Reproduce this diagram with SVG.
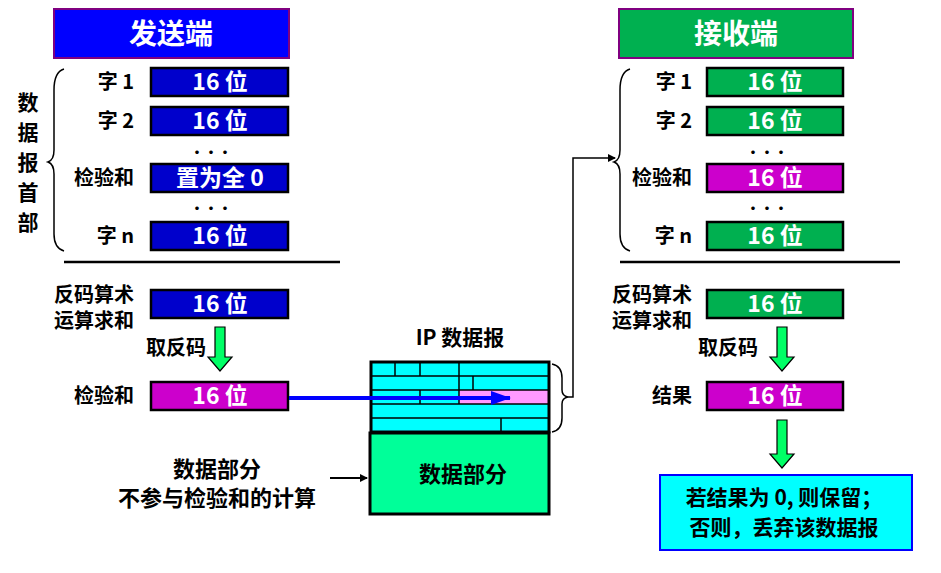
<svg xmlns="http://www.w3.org/2000/svg" width="941" height="573" viewBox="0 0 941 573">
<style>
text{font-family:"Noto Sans CJK SC","Liberation Sans",sans-serif;font-weight:bold;fill:#000}
.lbl{font-size:20px;text-anchor:end}
.w{fill:#fff;font-size:23px;text-anchor:middle}
.dots{font-size:14px;text-anchor:middle}
.fs{stroke:#000;stroke-width:2.5}
.brace{fill:none;stroke:#000;stroke-width:1.5}
.hdr{fill:#0ff;stroke:#000;stroke-width:1.5}
.ga{fill:#00ff66;stroke:#000;stroke-width:1.2}
</style>
<defs>
<marker id="ab" markerWidth="8" markerHeight="8" refX="7" refY="4" orient="auto" markerUnits="userSpaceOnUse"><path d="M0,0 L8,4 L0,8z" fill="#000"/></marker>
<marker id="abl" markerWidth="20" markerHeight="14" refX="19" refY="7" orient="auto" markerUnits="userSpaceOnUse"><path d="M0,0 L20,7 L0,14z" fill="#0000ff"/></marker>
</defs>
<g id="sender">
<rect x="54" y="9" width="235" height="49" fill="#0000ff" stroke="#800080" stroke-width="2"/>
<text class="w" x="171" y="44" style="font-size:28px">发送端</text>
<text x="28" y="110" text-anchor="middle" style="font-size:21px">数</text>
<text x="28" y="140" text-anchor="middle" style="font-size:21px">据</text>
<text x="28" y="170" text-anchor="middle" style="font-size:21px">报</text>
<text x="28" y="200" text-anchor="middle" style="font-size:21px">首</text>
<text x="28" y="230" text-anchor="middle" style="font-size:21px">部</text>
<path class="brace" d="M64,69 Q54,72 54,90 L54,150 Q54,160 48,162 Q54,164 54,174 L54,234 Q54,248 64,251"/>
<rect class="fs" x="151" y="68" width="137" height="28" fill="#0000cc"/>
<rect class="fs" x="151" y="107" width="137" height="28" fill="#0000cc"/>
<rect class="fs" x="151" y="164" width="137" height="28" fill="#0000cc"/>
<rect class="fs" x="151" y="222" width="137" height="28" fill="#0000cc"/>
<text class="w" x="220" y="90">16 位</text>
<text class="w" x="220" y="129">16 位</text>
<text class="w" x="220" y="186">置为全 0</text>
<text class="w" x="220" y="244">16 位</text>
<text class="lbl" x="134" y="89">字 1</text>
<text class="lbl" x="134" y="128">字 2</text>
<text class="lbl" x="134" y="185">检验和</text>
<text class="lbl" x="134" y="243">字 n</text>
<text class="dots" x="211" y="157">···</text>
<text class="dots" x="211" y="213">···</text>
<line x1="64" y1="262" x2="340" y2="262" stroke="#000" stroke-width="2.5"/>
<text class="lbl" x="134" y="302">反码算术</text>
<text class="lbl" x="134" y="328">运算求和</text>
<rect class="fs" x="151" y="290" width="137" height="28" fill="#0000cc"/>
<text class="w" x="220" y="312">16 位</text>
<text class="lbl" x="206" y="355">取反码</text>
<path class="ga" d="M215,327 L225,327 L225,357 L232,357 L220,371 L208,357 L215,357z"/>
<text class="lbl" x="134" y="403">检验和</text>
<rect class="fs" x="151" y="382" width="137" height="28" fill="#cc00cc"/>
<text class="w" x="220" y="404">16 位</text>
</g>
<g id="receiver">
<rect x="619" y="9" width="234" height="49" fill="#00b050" stroke="#800080" stroke-width="2"/>
<text class="w" x="736" y="44" style="font-size:28px">接收端</text>
<path class="brace" d="M630,69 Q620,72 620,90 L620,150 Q620,160 614,162 Q620,164 620,174 L620,234 Q620,248 630,251"/>
<rect class="fs" x="707" y="68" width="136" height="28" fill="#00b050"/>
<rect class="fs" x="707" y="107" width="136" height="28" fill="#00b050"/>
<rect class="fs" x="707" y="164" width="136" height="28" fill="#cc00cc"/>
<rect class="fs" x="707" y="222" width="136" height="28" fill="#00b050"/>
<text class="w" x="775" y="90">16 位</text>
<text class="w" x="775" y="129">16 位</text>
<text class="w" x="775" y="186">16 位</text>
<text class="w" x="775" y="244">16 位</text>
<text class="lbl" x="692" y="89">字 1</text>
<text class="lbl" x="692" y="128">字 2</text>
<text class="lbl" x="692" y="185">检验和</text>
<text class="lbl" x="692" y="243">字 n</text>
<text class="dots" x="767" y="157">···</text>
<text class="dots" x="767" y="213">···</text>
<line x1="620" y1="262" x2="900" y2="262" stroke="#000" stroke-width="2.5"/>
<text class="lbl" x="692" y="302">反码算术</text>
<text class="lbl" x="692" y="328">运算求和</text>
<rect class="fs" x="707" y="290" width="136" height="28" fill="#00b050"/>
<text class="w" x="775" y="312">16 位</text>
<text class="lbl" x="758" y="355">取反码</text>
<path class="ga" d="M777,327 L787,327 L787,357 L794,357 L782,371 L770,357 L777,357z"/>
<text class="lbl" x="692" y="403">结果</text>
<rect class="fs" x="707" y="382" width="136" height="28" fill="#cc00cc"/>
<text class="w" x="775" y="404">16 位</text>
<path class="ga" d="M777,420 L787,420 L787,454 L794,454 L782,468 L770,454 L777,454z"/>
<rect x="660" y="475" width="252" height="75" fill="#00ffff" stroke="#0000ff" stroke-width="2"/>
<text x="784" y="505" text-anchor="middle" style="font-size:21px">若结果为 0, 则保留；</text>
<text x="784" y="535" text-anchor="middle" style="font-size:21px">否则，丢弃该数据报</text>
</g>
<g id="ipdatagram">
<text x="460" y="345" text-anchor="middle" style="font-size:21px">IP 数据报</text>
<rect class="hdr" x="371" y="362" width="178" height="70"/>
<rect x="459" y="390" width="90" height="14" fill="#ff99ff"/>
<g stroke="#000" stroke-width="1.5">
<line x1="371" y1="376" x2="549" y2="376"/><line x1="371" y1="390" x2="549" y2="390"/>
<line x1="371" y1="404" x2="549" y2="404"/><line x1="371" y1="418" x2="549" y2="418"/>
<line x1="395" y1="362" x2="395" y2="376"/><line x1="420" y1="362" x2="420" y2="376"/><line x1="459" y1="362" x2="459" y2="376"/>
<line x1="459" y1="376" x2="459" y2="390"/><line x1="473" y1="376" x2="473" y2="390"/>
<line x1="420" y1="390" x2="420" y2="404"/><line x1="459" y1="390" x2="459" y2="404"/>
<line x1="501" y1="418" x2="501" y2="432"/>
</g>
<rect x="371" y="362" width="178" height="70" fill="none" stroke="#000" stroke-width="3"/>
<rect x="370" y="433" width="179" height="81" fill="#00ff99" stroke="#000" stroke-width="3"/>
<text x="463" y="482" text-anchor="middle" style="font-size:22px">数据部分</text>
<path class="brace" d="M552,364 Q562,366 562,378 L562,390 Q562,396 568,397 Q562,398 562,404 L562,418 Q562,430 552,432"/>
<text x="217" y="477" text-anchor="middle" style="font-size:22px">数据部分</text>
<text x="217" y="506" text-anchor="middle" style="font-size:22px">不参与检验和的计算</text>
</g>
<g id="connectors">
<line x1="289" y1="398" x2="510" y2="398" stroke="#0000ff" stroke-width="4" marker-end="url(#abl)"/>
<polyline points="568,397 573,397 573,158 615,158" fill="none" stroke="#000" stroke-width="1.5" marker-end="url(#ab)"/>
<line x1="330" y1="478" x2="367" y2="478" stroke="#000" stroke-width="2" marker-end="url(#ab)"/>
</g>
</svg>
